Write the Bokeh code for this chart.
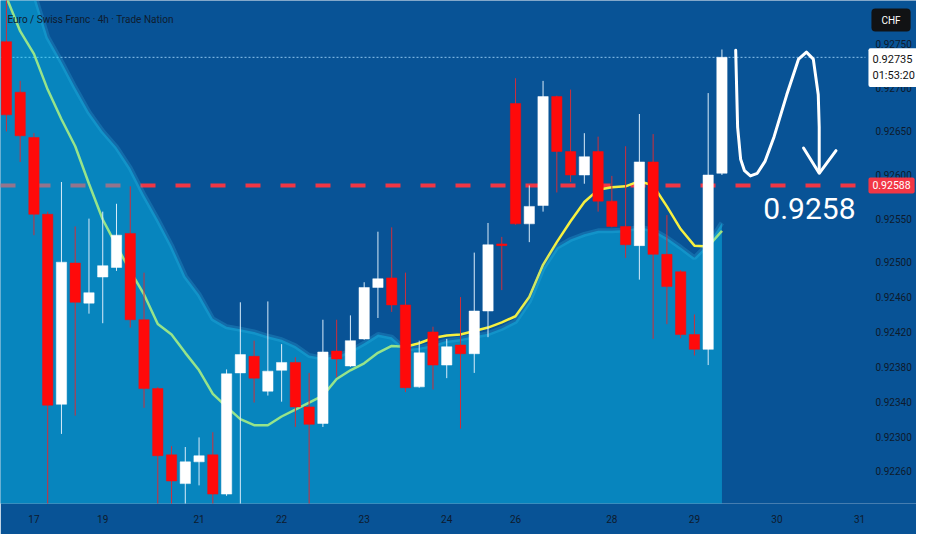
from bokeh.plotting import figure
from bokeh.models import Range1d, FixedTicker, NumeralTickFormatter, Label
from bokeh.embed import file_html
from bokeh.resources import INLINE

# ---------------- data ----------------
title_text = "Euro / Swiss Franc · 4h · Trade Nation"
currency = "CHF"
countdown = "01:53:20"
target_level = 0.92588
target_text = "0.9258"

# 4h bars, index 0 = 17 Jan 00:00 (weekend gaps removed)
bar_index = list(range(-2, 51))
opens = [0.92753, 0.92695, 0.92643, 0.92555, 0.92337, 0.92499, 0.92453, 0.92483, 0.92494, 0.92533,
         0.92434, 0.92355, 0.92279, 0.92246, 0.92271, 0.92279, 0.92234, 0.92373, 0.92392, 0.92352,
         0.92376, 0.92385, 0.92334, 0.92315, 0.92398, 0.92381, 0.92412, 0.92471, 0.92482, 0.92451,
         0.92357, 0.92420, 0.92382, 0.92405, 0.92395, 0.92444, 0.92521, 0.92682, 0.92544, 0.92565,
         0.92690, 0.92627, 0.92600, 0.92627, 0.92570, 0.92541, 0.92519, 0.92615, 0.92509, 0.92489,
         0.92417, 0.92400, 0.92602]
highs = [0.92812, 0.92708, 0.92648, 0.92558, 0.92592, 0.92541, 0.92550, 0.92558, 0.92567, 0.92587,
         0.92488, 0.92357, 0.92289, 0.92288, 0.92299, 0.92305, 0.92377, 0.92454, 0.92410, 0.92455,
         0.92406, 0.92391, 0.92373, 0.92434, 0.92434, 0.92439, 0.92477, 0.92535, 0.92540, 0.92488,
         0.92410, 0.92426, 0.92412, 0.92460, 0.92511, 0.92545, 0.92529, 0.92711, 0.92588, 0.92708,
         0.92691, 0.92698, 0.92648, 0.92644, 0.92599, 0.92633, 0.92670, 0.92647, 0.92554, 0.92491,
         0.92440, 0.92694, 0.92744]
lows = [0.92650, 0.92615, 0.92531, 0.92212, 0.92303, 0.92324, 0.92441, 0.92430, 0.92490, 0.92425,
        0.92333, 0.92214, 0.92216, 0.92218, 0.92244, 0.92215, 0.92232, 0.92217, 0.92339, 0.92347,
        0.92340, 0.92311, 0.92218, 0.92311, 0.92368, 0.92380, 0.92411, 0.92436, 0.92443, 0.92351,
        0.92356, 0.92354, 0.92367, 0.92309, 0.92373, 0.92414, 0.92468, 0.92543, 0.92523, 0.92558,
        0.92580, 0.92592, 0.92590, 0.92558, 0.92540, 0.92505, 0.92480, 0.92412, 0.92429, 0.92413,
        0.92393, 0.92382, 0.92600]
closes = [0.92669, 0.92645, 0.92555, 0.92336, 0.92500, 0.92454, 0.92465, 0.92496, 0.92531, 0.92434,
          0.92355, 0.92278, 0.92249, 0.92271, 0.92278, 0.92234, 0.92372, 0.92394, 0.92367, 0.92375,
          0.92385, 0.92334, 0.92314, 0.92397, 0.92389, 0.92410, 0.92471, 0.92481, 0.92451, 0.92356,
          0.92396, 0.92382, 0.92403, 0.92395, 0.92444, 0.92520, 0.92519, 0.92544, 0.92564, 0.92690,
          0.92627, 0.92600, 0.92621, 0.92570, 0.92541, 0.92520, 0.92615, 0.92509, 0.92472, 0.92417,
          0.92400, 0.92600, 0.92735]

ema = [0.92804, 0.92765, 0.92739, 0.92698, 0.92664, 0.92633, 0.92590, 0.92549, 0.92519, 0.92490,
       0.92463, 0.92429, 0.92417, 0.92396, 0.92376, 0.92349, 0.92334, 0.92320, 0.92313, 0.92313,
       0.92323, 0.92331, 0.92339, 0.92347, 0.92366, 0.92376, 0.92384, 0.92396, 0.92404, 0.92403,
       0.92407, 0.92413, 0.92416, 0.92417, 0.92421, 0.92425, 0.92431, 0.92438, 0.92460, 0.92497,
       0.92523, 0.92547, 0.92569, 0.92583, 0.92586, 0.92587, 0.92593, 0.92588, 0.92564, 0.92538,
       0.92519, 0.92518, 0.92536]

band_index = list(range(-3, 51))
band_upper = [0.92923, 0.92878, 0.92839, 0.92809, 0.92758, 0.92730, 0.92700, 0.92672, 0.92650, 0.92632,
              0.92608, 0.92577, 0.92549, 0.92519, 0.92484, 0.92463, 0.92435, 0.92426, 0.92423, 0.92420,
              0.92415, 0.92411, 0.92404, 0.92393, 0.92390, 0.92392, 0.92398, 0.92407, 0.92417, 0.92414,
              0.92400, 0.92402, 0.92405, 0.92410, 0.92412, 0.92415, 0.92418, 0.92424, 0.92432, 0.92455,
              0.92493, 0.92517, 0.92526, 0.92532, 0.92536, 0.92536, 0.92537, 0.92540, 0.92537, 0.92528,
              0.92517, 0.92505, 0.92521, 0.92545]

arrow_x = [51.0, 51.14, 51.36, 51.64, 52.07, 52.57, 53.14, 53.79, 54.71, 55.57, 56.14, 56.64, 57.0, 57.07, 57.07]
arrow_y = [0.92743, 0.92655, 0.92618, 0.92605, 0.92599, 0.92602, 0.92616, 0.92644, 0.92692, 0.92733,
           0.92741, 0.92733, 0.92692, 0.92655, 0.92603]
head_x = [55.93, 57.07, 58.29]
head_y = [0.92631, 0.92602, 0.92628]
text_pos = (56.36, 0.92562)

day_ticks = [0, 5, 12, 18, 24, 30, 35, 42, 48, 54, 60]
day_labels = ["17", "19", "21", "22", "23", "24", "26", "28", "29", "30", "31"]
price_ticks = [0.92750, 0.92700, 0.92650, 0.92600, 0.92550, 0.92500,
               0.92460, 0.92420, 0.92380, 0.92340, 0.92300, 0.92260]

x_view = (-2.43, 64.14)      # whole width, price scale included
scale_x = 60.43              # where the price scale starts
y_view = (0.922232, 0.928002)

# ---------------- styling ----------------
BG = "#085396"
RED = "#ff0a0a"
WHITE = "#ffffff"
AXIS_TXT = "#0e1a2c"
FONT = "Roboto"

last_price = closes[-1]
colors = [WHITE if c >= o else RED for o, c in zip(opens, closes)]
wick_colors = ["#d9ecfa" if c >= o else "#d02e3a" for o, c in zip(opens, closes)]
body_top = [max(o, c) for o, c in zip(opens, closes)]
body_bot = [min(o, c) for o, c in zip(opens, closes)]

p = figure(width=916, height=534, x_range=Range1d(*x_view), y_range=Range1d(*y_view),
           output_backend="svg", toolbar_location=None, y_axis_location="right",
           min_border_left=0, min_border_top=0, min_border_right=0, min_border_bottom=31)
p.background_fill_color = BG
p.border_fill_color = BG
p.outline_line_color = None
p.grid.visible = False

# axes
p.yaxis.ticker = FixedTicker(ticks=price_ticks)
p.yaxis.formatter = NumeralTickFormatter(format="0.00000")
p.yaxis.fixed_location = scale_x
p.xaxis.ticker = FixedTicker(ticks=day_ticks)
p.xaxis.major_label_overrides = {t: l for t, l in zip(day_ticks, day_labels)}
for ax in (p.xaxis[0], p.yaxis[0]):
    ax.axis_line_color = None
    ax.major_tick_line_color = None
    ax.minor_tick_line_color = None
    ax.major_tick_out = 0
    ax.major_tick_in = 0
    ax.major_label_text_color = AXIS_TXT
    ax.major_label_text_font = FONT
    ax.major_label_text_font_size = "10px"
p.yaxis.major_label_standoff = 10
p.xaxis.major_label_standoff = 11

# level lines (drawn beneath the other glyphs)
p.segment(x0=x_view[0], y0=last_price, x1=scale_x, y1=last_price, line_color="#8cc3ee",
          line_width=1, line_dash="2 2", level="underlay")
p.segment(x0=x_view[0], y0=target_level, x1=scale_x, y1=target_level, line_color="#f23645",
          line_width=4, line_dash="15 20", level="underlay")

# moving average, then translucent band over it
p.line(bar_index, ema, line_color="#f6f040", line_width=2.5)
p.varea(x=band_index, y1=0.9200, y2=band_upper, fill_color="#08d3fa", fill_alpha=0.4)
p.line(band_index, band_upper, line_color="#3cc8f0", line_width=5, line_alpha=0.22)

# candles
p.segment(x0=bar_index, y0=highs, x1=bar_index, y1=lows, line_color=wick_colors, line_width=1)
p.vbar(x=bar_index, width=0.75, top=body_top, bottom=body_bot,
       fill_color=colors, line_color=colors, line_width=0.5)

# hand drawn arrow
p.line(arrow_x, arrow_y, line_color="white", line_width=3, line_cap="round", line_join="round")
p.line(head_x, head_y, line_color="white", line_width=3, line_cap="round", line_join="round")

# texts
p.add_layout(Label(x=text_pos[0], y=text_pos[1], text=target_text, text_align="center",
                   text_baseline="middle", text_color="white", text_font=FONT,
                   text_font_size="30px"))
p.add_layout(Label(x=x_view[0], y=y_view[1], x_offset=7, y_offset=-19, text=title_text,
                   text_baseline="middle", text_color="#0f1c2e", text_font=FONT,
                   text_font_size="10px"))

# price-scale labels
p.add_layout(Label(x=scale_x, y=target_level, x_offset=3, text=f"{target_level:.5f}",
                   text_baseline="middle", text_color="white", text_font=FONT,
                   text_font_size="10.5px", background_fill_color="#f23645",
                   padding=dict(left=4, right=4, top=4, bottom=4), border_radius=2))
p.add_layout(Label(x=scale_x, y=last_price, x_offset=3, y_offset=9,
                   text=f"{last_price:.5f}\n{countdown}", text_baseline="top",
                   text_color="#111111", text_font=FONT, text_font_size="11px",
                   background_fill_color="white",
                   padding=dict(left=4, right=4, top=5, bottom=5), border_radius=2))
p.add_layout(Label(x=scale_x, y=y_view[1], x_offset=6, y_offset=-8, text=currency,
                   text_baseline="top", text_color="white", text_font=FONT,
                   text_font_size="10px", background_fill_color="#111214",
                   padding=dict(left=10, right=10, top=6, bottom=6), border_radius=4))

open("out.html", "w").write(file_html(p, INLINE))
